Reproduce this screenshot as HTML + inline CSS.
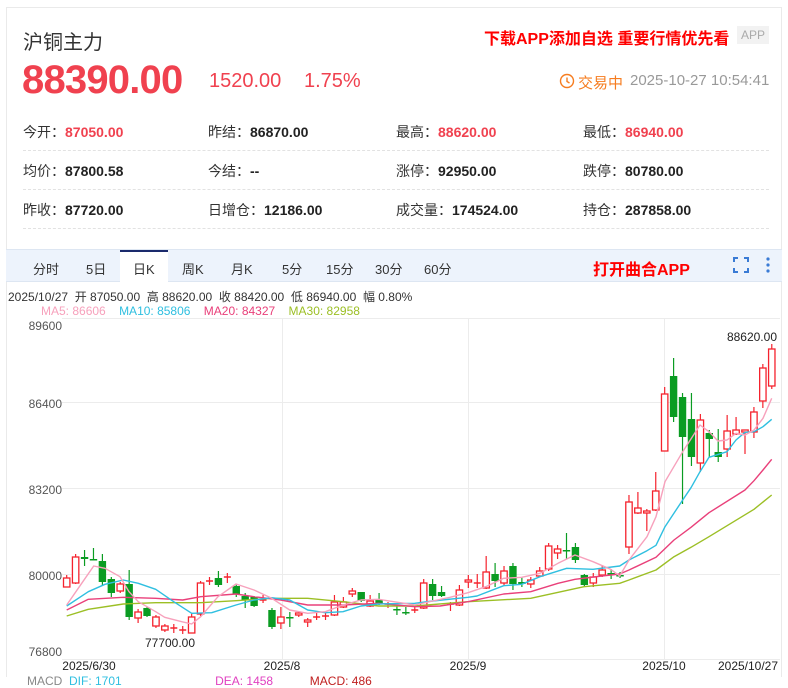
<!DOCTYPE html>
<html><head><meta charset="utf-8">
<style>
*{margin:0;padding:0;box-sizing:border-box}
body{width:788px;height:677px;overflow:hidden;background:#fff;font-family:"Liberation Sans","Noto Sans CJK SC",sans-serif;position:relative;color:#333}
.a{position:absolute;white-space:nowrap}
.lab{font-size:14px;color:#333}
.lab b{font-weight:bold;color:#222}
.lab b.r{color:#f0414f}
.dash{position:absolute;left:23px;width:746px;border-top:1px dashed #e2e2e2}
</style></head><body>
<div class="a" style="left:6px;top:7px;width:776px;height:670px;border-left:1px solid #eaeaea;border-right:1px solid #eaeaea;border-top:1px solid #eaeaea"></div>
<div class="a" style="left:23px;top:26px;font-size:20px;color:#333">沪铜主力</div>
<div class="a" style="left:484px;top:25px;font-size:16px;font-weight:bold;color:#f00">下载APP添加自选 重要行情优先看</div>
<div class="a" style="left:737px;top:26px;width:32px;height:18px;background:#f2f2f2;color:#aaa;font-size:12px;text-align:center;line-height:18px">APP</div>
<div class="a" style="left:22px;top:58px;font-size:40px;font-weight:bold;color:#f0414f;letter-spacing:-0.8px">88390.00</div>
<div class="a" style="left:209px;top:70px;font-size:20px;color:#f0414f">1520.00</div>
<div class="a" style="left:304px;top:70px;font-size:20px;color:#f0414f">1.75%</div>
<svg class="a" style="left:559px;top:73px" width="16" height="16"><circle cx="8" cy="8" r="6.5" fill="none" stroke="#f67c1f" stroke-width="1.4"/><path d="M8 4.5V8.5L10.5 10" fill="none" stroke="#f67c1f" stroke-width="1.4"/></svg>
<div class="a" style="left:578px;top:72px;font-size:15px;color:#f67c1f">交易中</div>
<div class="a" style="left:630px;top:72px;font-size:15px;color:#999">2025-10-27 10:54:41</div>

<div class="a lab" style="left:23px;top:122px">今开：<b class="r">87050.00</b></div>
<div class="a lab" style="left:208px;top:122px">昨结：<b>86870.00</b></div>
<div class="a lab" style="left:396px;top:122px">最高：<b class="r">88620.00</b></div>
<div class="a lab" style="left:583px;top:122px">最低：<b class="r">86940.00</b></div>
<div class="dash" style="top:150px"></div>
<div class="a lab" style="left:23px;top:161px">均价：<b>87800.58</b></div>
<div class="a lab" style="left:208px;top:161px">今结：<b>--</b></div>
<div class="a lab" style="left:396px;top:161px">涨停：<b>92950.00</b></div>
<div class="a lab" style="left:583px;top:161px">跌停：<b>80780.00</b></div>
<div class="dash" style="top:189px"></div>
<div class="a lab" style="left:23px;top:200px">昨收：<b>87720.00</b></div>
<div class="a lab" style="left:208px;top:200px">日增仓：<b>12186.00</b></div>
<div class="a lab" style="left:396px;top:200px">成交量：<b>174524.00</b></div>
<div class="a lab" style="left:583px;top:200px">持仓：<b>287858.00</b></div>
<div class="dash" style="top:228px"></div>

<div class="a" style="left:6px;top:249px;width:776px;height:33px;background:#edf3fc;border-top:1px solid #dde6f2;border-bottom:1px solid #dde6f2"></div>
<div class="a" style="left:120px;top:250px;width:48px;height:32px;background:#fff;border-top:2px solid #1a2a6c"></div>
<div class="a" style="top:259px;font-size:13px;color:#333;left:0;width:788px;height:16px">
<span class="a" style="left:33px">分时</span><span class="a" style="left:86px">5日</span><span class="a" style="left:133px">日K</span><span class="a" style="left:182px">周K</span><span class="a" style="left:231px">月K</span><span class="a" style="left:282px">5分</span><span class="a" style="left:326px">15分</span><span class="a" style="left:375px">30分</span><span class="a" style="left:424px">60分</span></div>
<div class="a" style="left:593px;top:256px;font-size:16px;font-weight:bold;color:#f00">打开曲合APP</div>
<svg class="a" style="left:733px;top:257px" width="16" height="16"><path d="M1 5V1H5M11 1H15V5M15 11V15H11M5 15H1V11" fill="none" stroke="#3a7bd5" stroke-width="2"/></svg>
<svg class="a" style="left:765px;top:256px" width="6" height="18"><circle cx="3" cy="3" r="1.6" fill="#3a7bd5"/><circle cx="3" cy="9" r="1.6" fill="#3a7bd5"/><circle cx="3" cy="15" r="1.6" fill="#3a7bd5"/></svg>

<div class="a" style="left:8px;top:288px;font-size:12px;color:#333">2025/10/27&nbsp; 开 87050.00&nbsp; 高 88620.00&nbsp; 收 88420.00&nbsp; 低 86940.00&nbsp; 幅 0.80%</div>
<div class="a" style="left:41px;top:304px;font-size:12px"><span style="color:#f7a1bc">MA5: 86606</span>&nbsp;&nbsp;&nbsp;&nbsp;<span style="color:#2fbfe0">MA10: 85806</span>&nbsp;&nbsp;&nbsp;&nbsp;<span style="color:#e9407a">MA20: 84327</span>&nbsp;&nbsp;&nbsp;&nbsp;<span style="color:#9cbf25">MA30: 82958</span></div>

<svg id="c" class="a" style="left:0;top:0" width="788" height="677"></svg>
<div class="a" style="left:27px;top:674px;font-size:12px;color:#888">MACD&nbsp; <span style="color:#2fbfe0">DIF: 1701</span>&nbsp;&nbsp;&nbsp;&nbsp;&nbsp;&nbsp;&nbsp;&nbsp;&nbsp;&nbsp;&nbsp;&nbsp;&nbsp;&nbsp;&nbsp;&nbsp;&nbsp;&nbsp;&nbsp;&nbsp;&nbsp;&nbsp;&nbsp;&nbsp;&nbsp;&nbsp;&nbsp;&nbsp;<span style="color:#e040c0">DEA: 1458</span>&nbsp;&nbsp;&nbsp;&nbsp;&nbsp;&nbsp;&nbsp;&nbsp;&nbsp;&nbsp;&nbsp;<span style="color:#c02020">MACD: 486</span></div>
<script>
var s='';
s+='<line x1="62" y1="318.5" x2="780" y2="318.5" stroke="#ececec"/>';
[402,488,574,659].forEach(function(y){s+='<line x1="62" y1="'+(y+.5)+'" x2="780" y2="'+(y+.5)+'" stroke="#ececec"/>';});
[282,468,664].forEach(function(x){s+='<line x1="'+(x+.5)+'" y1="318" x2="'+(x+.5)+'" y2="659" stroke="#ececec"/>';});
[["89600",330],["86400",408],["83200",494],["80000",580],["76800",656]].forEach(function(a){s+='<text x="62" y="'+a[1]+'" text-anchor="end" font-size="12" fill="#555" font-family="Liberation Sans">'+a[0]+'</text>';});
[["2025/6/30",89],["2025/8",282],["2025/9",468],["2025/10",664],["2025/10/27",748]].forEach(function(a){s+='<text x="'+a[1]+'" y="670" text-anchor="middle" font-size="12" fill="#222" font-family="Liberation Sans">'+a[0]+'</text>';});
s+='<text x="777" y="341" text-anchor="end" font-size="12" fill="#222" font-family="Liberation Sans">88620.00</text>';
s+='<text x="170" y="647" text-anchor="middle" font-size="12" fill="#222" font-family="Liberation Sans">77700.00</text>';
var C=[[578,587,575,587,1],[557,583,554,584,1],[557,559,550,566,0],[559,560,548,560,0],[561,582,554,585,0],[579,593,577,597,0],[584,591,582,593,1],[584,617,570,620,0],[612,618,609,623,1],[608,616,607,617,0],[617,626,615,628,1],[626,630,624,632,1],[628,628,624,633,1],[630,630,626,634,1],[617,633,613,633,1],[583,614,581,616,1],[581,581,577,585,1],[578,585,571,587,0],[577,577,573,583,1],[586,594,584,597,0],[596,600,593,608,0],[597,606,596,607,0],[600,600,595,603,1],[610,627,608,629,0],[617,623,607,629,1],[617,617,612,627,0],[613,615,612,617,1],[620,622,618,627,1],[617,617,613,620,1],[616,616,613,620,1],[602,615,595,616,1],[602,607,597,608,1],[591,594,588,597,1],[592,601,592,602,0],[601,606,595,607,1],[600,604,593,605,0],[604,604,602,608,1],[609,610,606,615,0],
[612,613,607,615,0],[610,610,606,613,1],[583,608,579,609,1],[584,596,579,600,0],[592,596,586,597,0],[604,604,602,611,1],[590,605,585,606,1],[580,582,575,588,1],[583,583,574,588,1],[572,588,556,589,1],[574,581,563,587,0],[571,583,566,585,1],[566,584,563,590,0],[582,584,577,587,0],[580,584,577,588,1],[571,576,567,577,1],[546,569,543,571,1],[549,553,545,559,1],[550,550,533,559,0],[547,560,543,563,0],[575,585,574,587,0],[577,583,573,587,1],[570,575,565,577,1],[573,574,569,579,0],[575,575,572,578,0],[502,547,495,554,1],[508,513,492,514,1],[511,513,509,531,1],[491,510,472,511,1],[394,451,387,451,1],[376,417,358,422,0],[397,437,393,504,0],[419,457,393,466,0],[420,463,414,472,1],[433,439,430,457,0],[452,457,429,462,0],[431,449,415,457,1],[430,434,417,435,1],[430,432,430,454,1],[412,432,407,438,1],[368,401,364,408,1],[349,386,344,389,1]];
C.forEach(function(c,i){var x=66.7+i*8.925;var col=c[4]?'#f5222d':'#0a9c22';
 s+='<line x1="'+x+'" y1="'+c[2]+'" x2="'+x+'" y2="'+c[3]+'" stroke="'+col+'" stroke-width="1.2"/>';
 var h=Math.max(c[1]-c[0],1);
 if(c[4]){ if(h<=1) s+='<line x1="'+(x-3.5)+'" y1="'+c[0]+'" x2="'+(x+3.5)+'" y2="'+c[0]+'" stroke="'+col+'" stroke-width="1.5"/>';
   else s+='<rect x="'+(x-3.2)+'" y="'+c[0]+'" width="6.4" height="'+h+'" fill="#fff" stroke="'+col+'" stroke-width="1.3"/>';}
 else s+='<rect x="'+(x-3.7)+'" y="'+c[0]+'" width="7.4" height="'+Math.max(h,1.5)+'" fill="'+col+'"/>';
});
function P(a,b,col){var pts=[];a.forEach(function(p){pts.push((55+p[0]/3).toFixed(1)+','+(530+p[1]/3).toFixed(1));});
 b.forEach(function(p){pts.push((400+p[0]/3).toFixed(1)+','+(320+p[1]/3).toFixed(1));});
 s+='<polyline points="'+pts.join(' ')+'" fill="none" stroke="'+col+'" stroke-width="1.4" stroke-linejoin="round"/>';}
P([[35,258],[100,238],[205,222],[302,218],[437,218],[543,212],[650,205],[758,205],[864,215],[971,228]],[[44,858],[204,845],[392,835],[552,800],[659,790],[687,780],[768,750],[822,710],[873,682],[927,650],[1062,568],[1115,525]],'#9cbf25');
P([[35,240],[100,208],[205,202],[302,205],[383,210],[437,200],[543,192],[597,200],[677,210],[758,225],[864,225],[971,220]],[[44,860],[120,858],[204,845],[311,822],[392,815],[474,790],[525,778],[605,768],[659,762],[687,750],[768,712],[822,660],[873,622],[927,578],[1035,510],[1062,482],[1089,450],[1115,418]],'#e9407a');
P([[35,228],[100,185],[150,163],[205,150],[250,160],[302,178],[356,215],[410,250],[470,248],[543,225],[597,210],[650,203],[704,210],[758,240],[811,248],[864,245],[918,228],[971,222]],[[44,850],[98,843],[204,832],[231,828],[311,797],[365,793],[420,770],[500,745],[579,748],[659,738],[687,720],[741,692],[768,676],[795,620],[848,540],[873,503],[900,455],[927,412],[981,395],[1008,360],[1035,337],[1062,335],[1089,320],[1115,298]],'#2fbfe0');
P([[35,225],[80,160],[116,108],[150,115],[195,140],[222,185],[250,215],[302,245],[329,262],[380,275],[410,282],[437,260],[489,200],[543,162],[597,180],[650,205],[704,240],[758,250],[811,245],[864,225],[918,210],[971,208]],[[44,855],[98,843],[150,832],[204,818],[257,800],[311,775],[365,772],[420,760],[474,730],[525,705],[579,725],[632,748],[659,768],[687,720],[741,650],[768,590],[795,485],[848,395],[900,315],[927,335],[954,363],[981,360],[1008,340],[1035,345],[1062,330],[1089,295],[1115,235]],'#f7a1bc');
document.getElementById('c').innerHTML=s;
</script>
</body></html>
